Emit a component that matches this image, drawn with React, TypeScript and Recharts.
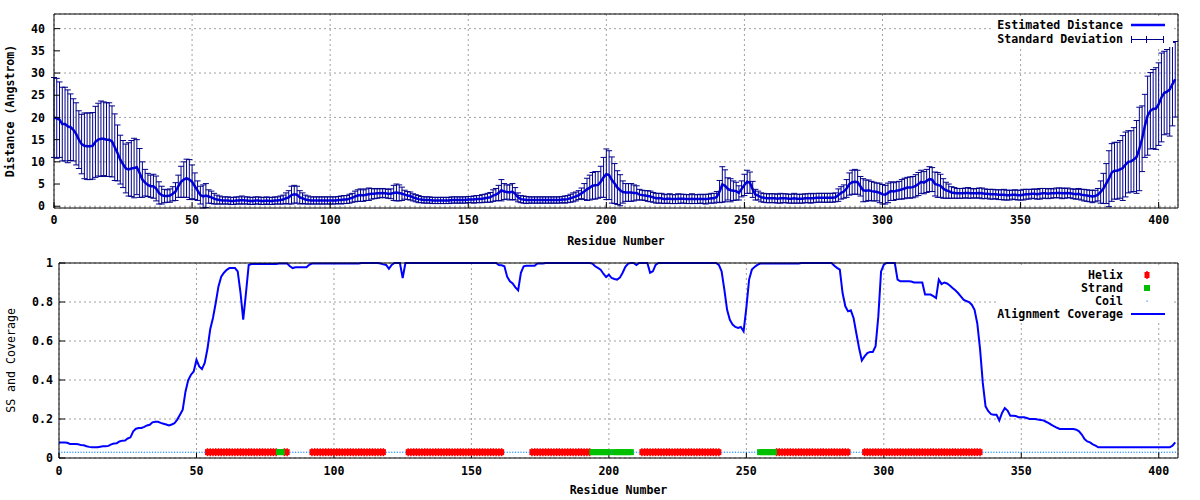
import {
  ComposedChart,
  Line,
  Scatter,
  XAxis,
  YAxis,
  CartesianGrid,
  ErrorBar,
  Label,
  Legend,
} from 'recharts';

const FONT = '"DejaVu Sans Mono", monospace';
const FONT_SIZE = 11.6;

const X_TICKS = [0, 50, 100, 150, 200, 250, 300, 350, 400];
const DIST_TICKS = [0, 5, 10, 15, 20, 25, 30, 35, 40];
const COV_TICKS = [0, 0.2, 0.4, 0.6, 0.8, 1];

// estimated distance per residue (0..406)
const DIST = [
  20.0, 19.8, 19.5, 18.5, 18.5, 18.0, 17.8, 17.2, 16.3, 15.0,
  14.0, 13.6, 13.5, 13.5, 13.6, 14.5, 15.0, 15.2, 15.2, 15.0,
  15.0, 14.6, 13.3, 12.0, 10.5, 9.5, 8.5, 8.3, 8.5, 8.6,
  8.8, 7.5, 6.0, 5.3, 4.8, 4.5, 4.5, 4.0, 3.0, 2.5,
  2.3, 2.3, 2.4, 2.8, 3.3, 4.5, 5.5, 6.0, 6.3, 6.0,
  5.5, 4.5, 3.5, 2.5, 2.2, 2.4, 2.2, 2.0, 1.7, 1.5,
  1.4, 1.3, 1.3, 1.3, 1.2, 1.2, 1.3, 1.3, 1.4, 1.3,
  1.3, 1.2, 1.2, 1.3, 1.3, 1.2, 1.2, 1.3, 1.2, 1.2,
  1.3, 1.3, 1.4, 1.5, 1.8, 2.0, 2.5, 2.7, 2.6, 2.0,
  1.8, 1.5, 1.4, 1.3, 1.3, 1.3, 1.3, 1.3, 1.3, 1.3,
  1.3, 1.3, 1.3, 1.4, 1.4, 1.5, 1.5, 1.7, 1.9, 2.2,
  2.4, 2.5, 2.4, 2.6, 2.7, 2.8, 2.8, 2.9, 2.9, 3.0,
  2.9, 2.8, 2.8, 3.0, 3.1, 3.0, 2.8, 2.6, 2.4, 2.3,
  2.0, 1.8, 1.6, 1.5, 1.4, 1.4, 1.4, 1.3, 1.3, 1.3,
  1.3, 1.3, 1.3, 1.3, 1.4, 1.4, 1.4, 1.4, 1.4, 1.4,
  1.5, 1.5, 1.5, 1.6, 1.6, 1.7, 1.8, 1.9, 2.0, 2.4,
  2.6, 3.0, 3.6, 3.3, 3.2, 3.1, 3.3, 2.8, 2.0, 1.6,
  1.5, 1.4, 1.4, 1.4, 1.4, 1.4, 1.4, 1.4, 1.4, 1.4,
  1.4, 1.4, 1.4, 1.4, 1.5, 1.5, 1.6, 1.8, 2.0, 2.2,
  2.5, 2.9, 3.3, 3.8, 4.2, 4.6, 4.7, 4.8, 5.5, 6.5,
  7.2, 7.0, 5.9, 5.1, 4.2, 3.6, 3.2, 3.1, 3.1, 3.1,
  3.0, 3.0, 2.6, 2.5, 2.4, 2.3, 2.2, 2.0, 1.8, 1.8,
  1.8, 1.6, 1.7, 1.7, 1.6, 1.6, 1.7, 1.7, 1.7, 1.6,
  1.6, 1.7, 1.6, 1.6, 1.7, 1.6, 1.6, 1.7, 1.8, 1.8,
  2.1, 3.3, 4.9, 4.6, 3.9, 3.6, 3.5, 3.4, 3.0, 3.9,
  4.8, 5.5, 5.3, 3.8, 2.6, 2.4, 2.0, 1.9, 1.8, 1.8,
  1.8, 1.8, 1.7, 1.8, 1.8, 1.8, 1.7, 1.7, 1.8, 1.7,
  1.7, 1.7, 1.8, 1.8, 1.8, 1.8, 1.9, 1.9, 1.9, 1.9,
  1.9, 1.9, 1.9, 2.0, 2.5, 3.0, 3.3, 4.0, 5.0, 5.4,
  5.5, 5.4, 4.5, 3.6, 3.5, 3.6, 3.4, 3.3, 3.2, 3.0,
  2.7, 2.6, 3.0, 3.4, 3.3, 3.5, 3.6, 3.8, 4.0, 4.2,
  4.2, 4.3, 4.6, 5.0, 5.5, 5.3, 5.7, 6.1, 6.0, 5.0,
  4.8, 4.6, 4.0, 3.6, 3.4, 3.1, 3.0, 2.9, 2.9, 2.9,
  3.0, 3.0, 2.9, 2.9, 2.9, 3.0, 2.9, 2.8, 2.8, 2.7,
  2.7, 2.7, 2.6, 2.6, 2.6, 2.5, 2.5, 2.6, 2.6, 2.5,
  2.5, 2.6, 2.7, 2.7, 2.8, 2.8, 2.7, 2.8, 2.9, 2.9,
  2.8, 2.9, 2.9, 3.0, 3.0, 2.9, 2.9, 3.0, 2.9, 2.8,
  2.7, 2.8, 2.6, 2.5, 2.4, 2.3, 2.2, 2.3, 2.6, 3.2,
  4.0, 5.1, 6.2, 7.6, 8.0, 8.0, 8.3, 8.6, 9.4, 10.0,
  10.1, 10.5, 11.1, 12.9, 15.2, 18.1, 20.4, 21.5, 21.9, 22.0,
  23.0, 24.5, 25.5, 25.8, 26.3, 27.5, 28.6,
];

// standard deviation per residue
const STD_DEV = [
  9.0, 9.0, 8.5, 8.3, 8.3, 8.2, 7.5, 7.0, 7.0, 6.5,
  6.7, 7.4, 7.5, 7.5, 7.5, 8.0, 8.2, 8.5, 8.3, 8.3,
  8.3, 8.0, 7.5, 6.3, 5.5, 5.3, 5.5, 6.0, 6.3, 6.7,
  6.2, 5.5, 4.0, 3.0, 2.6, 2.5, 2.7, 2.8, 2.5, 2.0,
  1.5, 1.4, 1.5, 1.6, 2.0, 2.5, 3.5, 4.0, 4.3, 4.5,
  3.8, 3.0, 2.2, 2.0, 2.6, 2.7, 1.5, 1.4, 1.2, 1.0,
  0.9, 0.8, 0.8, 0.8, 0.8, 0.8, 0.8, 0.8, 0.9, 0.8,
  0.8, 0.8, 0.8, 0.8, 0.8, 0.8, 0.8, 0.8, 0.8, 0.8,
  0.8, 0.8, 0.9, 1.0, 1.2, 1.5, 2.0, 2.0, 1.9, 1.5,
  1.2, 1.0, 0.9, 0.8, 0.8, 0.8, 0.8, 0.8, 0.8, 0.8,
  0.8, 0.8, 0.8, 0.8, 0.9, 0.9, 0.9, 1.0, 1.0, 1.2,
  1.3, 1.4, 1.3, 1.3, 1.4, 1.2, 1.1, 1.1, 1.0, 1.0,
  1.0, 1.0, 1.1, 1.7, 1.9, 1.8, 1.5, 1.0, 0.9, 0.9,
  0.8, 0.8, 0.8, 0.7, 0.7, 0.7, 0.7, 0.7, 0.7, 0.7,
  0.7, 0.7, 0.7, 0.7, 0.7, 0.7, 0.7, 0.7, 0.7, 0.7,
  0.7, 0.7, 0.8, 0.8, 0.8, 0.9, 0.9, 1.0, 1.1, 1.3,
  1.4, 1.7, 2.4, 1.8, 1.6, 1.7, 1.8, 1.4, 1.0, 0.8,
  0.8, 0.8, 0.7, 0.7, 0.7, 0.7, 0.7, 0.7, 0.7, 0.7,
  0.7, 0.7, 0.7, 0.7, 0.7, 0.8, 0.8, 0.9, 1.0, 1.0,
  1.0, 1.2, 1.8, 2.5, 2.8, 3.0, 3.1, 3.0, 3.5, 4.5,
  5.7, 5.5, 5.2, 4.5, 3.8, 3.5, 2.5, 2.0, 2.0, 2.0,
  1.8, 1.6, 1.2, 1.1, 1.1, 1.2, 1.2, 1.1, 1.1, 1.1,
  1.1, 1.0, 1.0, 1.1, 1.0, 1.0, 1.1, 1.0, 1.0, 1.0,
  1.0, 1.1, 1.0, 1.0, 1.0, 1.0, 1.1, 1.0, 1.1, 1.1,
  1.2, 2.5, 4.0, 3.6, 2.5, 2.6, 2.2, 2.0, 1.6, 1.8,
  2.4, 2.6, 2.4, 1.8, 1.2, 1.0, 1.0, 1.0, 1.0, 1.0,
  1.0, 1.0, 1.0, 1.1, 1.0, 1.0, 1.0, 1.0, 1.1, 1.0,
  1.0, 1.0, 1.0, 1.0, 1.1, 1.0, 1.0, 1.0, 1.0, 1.0,
  1.0, 1.0, 1.0, 1.0, 1.4, 1.4, 1.5, 2.0, 2.5, 2.7,
  2.8, 2.7, 2.2, 2.6, 2.4, 2.3, 2.2, 2.1, 2.0, 2.2,
  2.2, 2.1, 2.2, 2.1, 2.0, 2.0, 2.0, 2.2, 2.3, 2.3,
  2.4, 2.4, 2.5, 2.6, 2.6, 2.5, 2.6, 2.8, 2.7, 2.7,
  2.8, 2.6, 2.2, 1.8, 1.6, 1.3, 1.2, 1.1, 1.1, 1.1,
  1.1, 1.2, 1.1, 1.0, 1.1, 1.1, 1.2, 1.1, 1.0, 1.1,
  1.1, 1.0, 1.1, 1.1, 1.2, 1.1, 1.1, 1.0, 1.1, 1.1,
  1.1, 1.2, 1.1, 1.1, 1.0, 1.1, 1.1, 1.2, 1.1, 1.1,
  1.1, 1.1, 1.0, 1.1, 1.1, 1.2, 1.1, 1.1, 1.0, 1.1,
  1.1, 1.2, 1.2, 1.3, 1.3, 1.3, 1.4, 1.3, 1.4, 2.5,
  3.4, 4.5, 6.3, 6.5, 6.4, 6.4, 6.5, 7.3, 7.3, 7.0,
  6.9, 7.2, 8.2, 9.4, 7.4, 7.1, 8.9, 8.6, 8.9, 9.2,
  9.3, 10.0, 9.4, 9.5, 10.5, 9.4, 8.5,
];

// alignment coverage per residue
const COVERAGE = [
  0.080, 0.080, 0.080, 0.078, 0.072, 0.072, 0.072, 0.070, 0.066, 0.065,
  0.060, 0.057, 0.055, 0.055, 0.055, 0.058, 0.060, 0.060, 0.062, 0.070,
  0.074, 0.076, 0.085, 0.089, 0.090, 0.100, 0.106, 0.137, 0.150, 0.154,
  0.154, 0.160, 0.167, 0.170, 0.183, 0.186, 0.186, 0.180, 0.176, 0.172,
  0.167, 0.172, 0.178, 0.197, 0.222, 0.248, 0.340, 0.400, 0.427, 0.444,
  0.504, 0.470, 0.456, 0.487, 0.560, 0.660, 0.718, 0.795, 0.880, 0.930,
  0.950, 0.965, 0.974, 0.974, 0.974, 0.957, 0.850, 0.710, 0.846, 0.990,
  0.995, 0.995, 0.995, 0.995, 0.995, 0.995, 0.995, 0.995, 0.995, 0.995,
  0.997, 0.997, 0.997, 0.997, 0.983, 0.974, 0.978, 0.978, 0.978, 0.978,
  0.978, 0.991, 0.997, 0.997, 0.997, 0.997, 0.997, 0.997, 0.997, 0.997,
  0.997, 0.997, 0.997, 0.997, 0.997, 0.997, 0.997, 0.997, 0.997, 0.997,
  1, 1, 1, 1, 1, 1, 1, 0.997, 0.993, 0.990,
  0.970, 0.990, 1, 1, 1, 0.923, 1, 1, 1, 1,
  1, 1, 1, 1, 1, 1, 1, 1, 1, 1,
  1, 1, 1, 1, 1, 1, 1, 1, 1, 1,
  1, 1, 1, 1, 1, 1, 1, 1, 1, 1,
  0.990, 0.988, 0.983, 0.930, 0.906, 0.895, 0.875, 0.860, 0.950, 0.983,
  0.986, 0.986, 0.986, 0.986, 0.997, 0.997, 0.997, 1, 1, 1,
  1, 1, 1, 1, 1, 1, 1, 1, 1, 1,
  1, 1, 1, 1, 0.997, 0.983, 0.975, 0.966, 0.945, 0.928,
  0.940, 0.923, 0.918, 0.915, 0.925, 0.950, 0.980, 0.997, 1, 1,
  0.990, 1, 1, 1, 1, 0.950, 0.957, 0.990, 1, 1,
  1, 1, 1, 1, 1, 1, 1, 1, 1, 1,
  1, 1, 1, 1, 1, 1, 1, 1, 1, 1,
  0.990, 0.957, 0.863, 0.760, 0.709, 0.684, 0.672, 0.667, 0.672, 0.650,
  0.770, 0.915, 0.966, 0.980, 0.990, 0.997, 0.997, 0.997, 0.997, 0.997,
  0.997, 0.997, 0.997, 0.997, 0.997, 0.997, 0.997, 0.997, 0.997, 0.997,
  1, 1, 1, 1, 1, 1, 1, 1, 1, 1,
  1, 1, 0.986, 0.975, 0.966, 0.846, 0.778, 0.752, 0.757, 0.718,
  0.640, 0.564, 0.500, 0.521, 0.538, 0.544, 0.544, 0.573, 0.726, 0.957,
  0.991, 1, 1, 1, 1, 0.915, 0.906, 0.906, 0.906, 0.906,
  0.905, 0.900, 0.900, 0.900, 0.900, 0.838, 0.838, 0.838, 0.830, 0.820,
  0.915, 0.892, 0.900, 0.895, 0.885, 0.872, 0.860, 0.846, 0.829, 0.812,
  0.805, 0.800, 0.786, 0.760, 0.690, 0.560, 0.385, 0.265, 0.240, 0.225,
  0.222, 0.222, 0.193, 0.231, 0.256, 0.243, 0.217, 0.217, 0.215, 0.209,
  0.209, 0.209, 0.205, 0.200, 0.200, 0.200, 0.197, 0.195, 0.193, 0.186,
  0.179, 0.170, 0.162, 0.155, 0.149, 0.149, 0.149, 0.149, 0.149, 0.149,
  0.145, 0.137, 0.120, 0.097, 0.085, 0.080, 0.070, 0.063, 0.055, 0.055,
  0.055, 0.055, 0.055, 0.055, 0.055, 0.055, 0.055, 0.055, 0.055, 0.055,
  0.055, 0.055, 0.055, 0.055, 0.055, 0.055, 0.055, 0.055, 0.055, 0.055,
  0.055, 0.055, 0.055, 0.055, 0.055, 0.063, 0.080,
];

// secondary structure segments [first, last] residue
const HELIX_SEGMENTS = [
  [54, 79], [82, 83], [92, 118], [127, 161], [172, 193], [212, 240], [261, 287], [293, 335],
];
const STRAND_SEGMENTS = [[80, 81], [194, 200], [202, 208], [255, 260]];
const SS_LEVEL = 0.03;

const TOP_LEGEND = ['Estimated Distance', 'Standard Deviation'];
const BOTTOM_LEGEND = ['Helix', 'Strand', 'Coil', 'Alignment Coverage'];

const distData = DIST.map((d, i) => ({ res: i, dist: d, err: STD_DEV[i] }));
const covData = COVERAGE.map((c, i) => ({ res: i, cov: c }));

const expand = (segs: number[][]) =>
  segs.flatMap(([a, b]) => Array.from({ length: b - a + 1 }, (_, k) => a + k));
const helixRes = expand(HELIX_SEGMENTS);
const strandRes = expand(STRAND_SEGMENTS);
const helixData = helixRes.map((r) => ({ res: r, ss: SS_LEVEL }));
const strandData = strandRes.map((r) => ({ res: r, ss: SS_LEVEL }));
const coilData = covData
  .filter((d) => !helixRes.includes(d.res) && !strandRes.includes(d.res))
  .map((d) => ({ res: d.res, ss: SS_LEVEL }));

const tickStyle = { fill: '#000', fontSize: FONT_SIZE, fontFamily: FONT, fontWeight: 'bold' };
const labelStyle = { textAnchor: 'middle', fill: '#000', fontSize: FONT_SIZE, fontFamily: FONT, fontWeight: 'bold' } as const;

const HelixMark = ({ cx, cy }: any) => (
  <g>
    <rect x={cx - 2.5} y={cy - 3} width={5} height={6} fill="#ff0000" />
    <line x1={cx} x2={cx} y1={cy - 4} y2={cy + 4} stroke="#ff0000" strokeWidth={1.5} />
  </g>
);
const StrandMark = ({ cx, cy }: any) => <rect x={cx - 3} y={cy - 3} width={6} height={6} fill="#00c000" />;
const CoilMark = ({ cx, cy }: any) => <rect x={cx - 0.5} y={cy - 0.5} width={1.2} height={1.2} fill="#1a8cff" />;

// one legend row: right-aligned text, then a small sample drawn in svg
function LegendRow({ top, text, textRight, children }: any) {
  return (
    <div style={{ position: 'absolute', left: 0, top, width: '100%', height: 14 }}>
      <div style={{
        position: 'absolute', right: `calc(100% - ${textRight}px)`, top: 0, whiteSpace: 'nowrap',
        fontFamily: FONT, fontSize: FONT_SIZE, fontWeight: 'bold', lineHeight: '14px', color: '#000',
      }}>{text}</div>
      <svg width={50} height={14} style={{ position: 'absolute', left: textRight + 5, top: 0 }}>
        {children}
      </svg>
    </div>
  );
}

function DistanceLegend() {
  return (
    <div style={{ position: 'relative', width: 180, height: 30, background: '#fff' }}>
      <LegendRow top={1} text={TOP_LEGEND[0]} textRight={130}>
        <line x1={3} x2={37} y1={7} y2={7} stroke="#0000ff" strokeWidth={2.5} />
      </LegendRow>
      <LegendRow top={15} text={TOP_LEGEND[1]} textRight={130}>
        <g stroke="#00008b" strokeWidth={1}>
          <line x1={3} x2={36} y1={7.5} y2={7.5} />
          <line x1={3.5} x2={3.5} y1={4} y2={11} />
          <line x1={18.5} x2={18.5} y1={4} y2={11} />
          <line x1={35.5} x2={35.5} y1={4} y2={11} />
        </g>
      </LegendRow>
    </div>
  );
}

function CoverageLegend() {
  return (
    <div style={{ position: 'relative', width: 174, height: 54, background: '#fff' }}>
      <LegendRow top={2} text={BOTTOM_LEGEND[0]} textRight={125}>
        <HelixMark cx={19} cy={7} />
      </LegendRow>
      <LegendRow top={15} text={BOTTOM_LEGEND[1]} textRight={125}>
        <StrandMark cx={19} cy={7} />
      </LegendRow>
      <LegendRow top={28} text={BOTTOM_LEGEND[2]} textRight={125}>
        <CoilMark cx={19} cy={7} />
      </LegendRow>
      <LegendRow top={41} text={BOTTOM_LEGEND[3]} textRight={125}>
        <line x1={3} x2={37} y1={7} y2={7} stroke="#0000ff" strokeWidth={2} />
      </LegendRow>
    </div>
  );
}

export default function App() {
  return (
    <div style={{ position: 'absolute', left: 0, top: 0, width: 1200, height: 500, background: '#fff' }}>
      <ComposedChart width={1200} height={250} data={distData} margin={{ top: 13, right: 21, bottom: 0, left: 0 }}>
        <CartesianGrid stroke="#a0a0a0" strokeDasharray="2 3" />
        <XAxis dataKey="res" type="number" domain={[0, 407]} ticks={X_TICKS} height={42} stroke="#000"
          tickSize={-6} tickMargin={14} tick={tickStyle}>
          <Label value="Residue Number" position="insideBottom" offset={5} style={labelStyle} />
        </XAxis>
        <XAxis xAxisId="top" orientation="top" dataKey="res" type="number" domain={[0, 407]} ticks={X_TICKS}
          height={1} stroke="#000" tickSize={-6} tick={false} />
        <YAxis type="number" domain={[0, 43.3]} ticks={DIST_TICKS} width={54} stroke="#000"
          tickSize={-6} tickMargin={15} tick={tickStyle}>
          <Label value="Distance (Angstrom)" angle={-90} position="insideLeft" offset={10} style={labelStyle} />
        </YAxis>
        <YAxis yAxisId="right" orientation="right" type="number" domain={[0, 43.3]} ticks={DIST_TICKS}
          width={1} stroke="#000" tickSize={-6} tick={false} />
        <Line dataKey="dist" stroke="#0000ff" strokeWidth={2.5} dot={false} type="linear" isAnimationActive={false} />
        <Line dataKey="dist" stroke="none" dot={false} type="linear" isAnimationActive={false}>
          <ErrorBar dataKey="err" width={3} stroke="#00008b" strokeWidth={1} isAnimationActive={false} />
        </Line>
        <Legend layout="vertical" align="center" verticalAlign="middle" content={() => <DistanceLegend />}
          wrapperStyle={{ left: 993, top: 17, width: 180, height: 30 }} />
      </ComposedChart>

      <ComposedChart width={1200} height={250} data={covData} margin={{ top: 12, right: 21, bottom: 0, left: 0 }}>
        <CartesianGrid stroke="#a0a0a0" strokeDasharray="2 3" />
        <XAxis dataKey="res" type="number" domain={[0, 407]} ticks={X_TICKS} height={42} stroke="#000"
          tickSize={-6} tickMargin={15} tick={tickStyle}>
          <Label value="Residue Number" position="insideBottom" offset={6} style={labelStyle} />
        </XAxis>
        <XAxis xAxisId="top" orientation="top" dataKey="res" type="number" domain={[0, 407]} ticks={X_TICKS}
          height={1} stroke="#000" tickSize={-6} tick={false} />
        <YAxis type="number" domain={[0, 1]} ticks={COV_TICKS} width={59} stroke="#000"
          tickSize={-6} tickMargin={12} tick={tickStyle}>
          <Label value="SS and Coverage" angle={-90} position="insideLeft" offset={11}
            style={{ ...labelStyle, fontWeight: 'normal' }} />
        </YAxis>
        <YAxis yAxisId="right" orientation="right" type="number" domain={[0, 1]} ticks={COV_TICKS}
          width={1} stroke="#000" tickSize={-6} tick={false} />
        <Scatter data={helixData} dataKey="ss" shape={(p: any) => <HelixMark cx={p.cx} cy={p.cy} />} isAnimationActive={false} />
        <Scatter data={strandData} dataKey="ss" shape={(p: any) => <StrandMark cx={p.cx} cy={p.cy} />} isAnimationActive={false} />
        <Scatter data={coilData} dataKey="ss" shape={(p: any) => <CoilMark cx={p.cx} cy={p.cy} />} isAnimationActive={false} />
        <Line dataKey="cov" stroke="#0000ff" strokeWidth={2} dot={false} type="linear" isAnimationActive={false} />
        <Legend layout="vertical" align="center" verticalAlign="middle" content={() => <CoverageLegend />}
          wrapperStyle={{ left: 998, top: 16, width: 174, height: 54 }} />
      </ComposedChart>
    </div>
  );
}
